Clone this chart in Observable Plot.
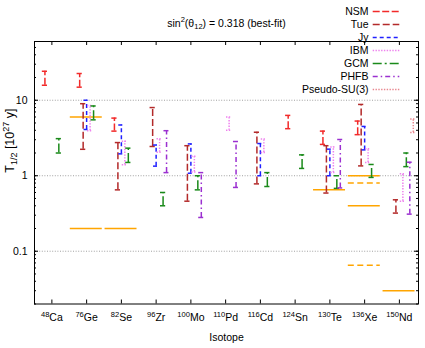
<!DOCTYPE html>
<html><head><meta charset="utf-8">
<script src="https://cdn.jsdelivr.net/npm/d3@7"></script>
<script src="https://cdn.jsdelivr.net/npm/@observablehq/plot@0.6"></script>
<style>
body{margin:0;background:#fff}
#wrap{position:relative;width:425px;height:348px}
#wrap svg{position:absolute;left:0;top:0}
</style></head><body><div id="wrap"></div>
<script>
// ---------- data (half-lives in units of 10^27 y) ----------
const isotopes = ["48Ca","76Ge","82Se","96Zr","100Mo","110Pd","116Cd","124Sn","130Te","136Xe","150Nd"];
const models = ["NSM","Tue","Jy","IBM","GCM","PHFB","Pseudo-SU(3)"];
// [isotope, lower, upper]
const NSM = [["48Ca",15.8,24.2],["76Ge",14.9,22.6],["82Se",3.9,5.8],["124Sn",4.2,6.3],["130Te",2.6,3.9],["136Xe",3.5,5.3]];
const Tue = [["76Ge",2.24,9.0],["82Se",0.65,2.75],["96Zr",2.44,8.0],["100Mo",0.46,2.5],["116Cd",0.78,3.77],["130Te",0.59,2.5],["136Xe",1.35,8.8],["150Nd",0.32,0.48]];
const Jy = [["76Ge",4.1,10.0],["82Se",1.95,4.7],["96Zr",1.34,2.55],["100Mo",1.08,2.64],["116Cd",1.0,2.67],["130Te",1.0,2.25],["136Xe",2.2,4.5]];
const IBM = [["76Ge",3.95,8.5],["82Se",1.4,2.86],["96Zr",2.05,3.1],["100Mo",1.12,1.81],["110Pd",4.0,6.0],["116Cd",2.03,3.07],["130Te",1.1,2.41],["136Xe",1.5,2.27],["150Nd",0.46,1.06]];
const GCM = [["48Ca",2.0,3.1],["76Ge",5.5,8.4],["82Se",1.5,2.32],["96Zr",0.40,0.60],["100Mo",0.65,1.0],["116Cd",0.72,1.1],["124Sn",1.25,1.89],["130Te",0.68,1.0],["136Xe",0.95,1.41],["150Nd",1.32,2.0]];
const PHFB = [["96Zr",1.10,3.95],["100Mo",0.28,1.10],["110Pd",0.70,2.84],["130Te",0.69,3.02],["150Nd",0.31,1.51]];
const PseudoSU3 = [["150Nd",3.75,5.65]];
// experimental limits (solid) and projected sensitivities (dashed)
const expLimits = [["76Ge",6.0],["76Ge",0.2],["82Se",0.2],["130Te",0.65],["136Xe",1.0],["136Xe",0.4],["150Nd",0.03]];
const expProjected = [["136Xe",0.8],["136Xe",0.065]];
const yTickValues = [0.1, 1, 10];
const titleText = "sin^{2}(θ_{12}) = 0.318 (best-fit)";
const yLabelText = "T_{1/2} [10^{27} y]";
const xLabelText = "Isotope";

// ---------- styling ----------
const modelData = {"NSM": NSM, "Tue": Tue, "Jy": Jy, "IBM": IBM, "GCM": GCM, "PHFB": PHFB, "Pseudo-SU(3)": PseudoSU3};
const modelStyle = {
  "NSM":          {stroke: "#f22a2a", dash: "7,2.5"},
  "Tue":          {stroke: "#b32a2a", dash: "7,3"},
  "Jy":           {stroke: "#2020ff", dash: "4,3"},
  "IBM":          {stroke: "#ee82ee", dash: "1.4,1.4"},
  "GCM":          {stroke: "#1a8a1a", dash: "9,3,2,3"},
  "PHFB":         {stroke: "#9b30d0", dash: "5,3,1.5,3"},
  "Pseudo-SU(3)": {stroke: "#e8878f", dash: "1.4,1.4"}
};
const ORANGE = "#ffa500";

function hasFont(name){
  const c = document.createElement("canvas").getContext("2d");
  const s = "Pseudo-SU(3) Isotope 0123456789";
  c.font = "20px monospace"; const a = c.measureText(s).width;
  c.font = `20px '${name}', monospace`; const b = c.measureText(s).width;
  return Math.abs(a - b) > 0.5;
}
const narrow = hasFont("Liberation Sans Narrow");
const FONT = narrow ? "'Liberation Sans Narrow', 'Liberation Sans', Arial, sans-serif" : "'Liberation Sans', Arial, sans-serif";
const FS = narrow ? 11.5 : 10;

// turn "a^{b}c_{d}" markup into real text with super/subscript tspans
function richify(root, ratio) {
  const ns = "http://www.w3.org/2000/svg";
  root.querySelectorAll("text").forEach(t => {
    if (t.querySelector("tspan")) return;
    const s = t.textContent;
    if (!/[_^]\{/.test(s)) return;
    const size = parseFloat(getComputedStyle(t).fontSize) || FS;
    const r = t.closest("[data-ratio]") ? +t.closest("[data-ratio]").dataset.ratio : ratio;
    t.textContent = "";
    const re = /([_^])\{([^}]*)\}|([^_^]+)/g;
    let m, shift = 0;
    while ((m = re.exec(s))) {
      const ts = document.createElementNS(ns, "tspan");
      let target = 0, sub = null;
      if (m[1] === "^") { target = -0.42 * size; sub = r * size; ts.textContent = m[2]; }
      else if (m[1] === "_") { target = 0.25 * size; sub = r * size; ts.textContent = m[2]; }
      else ts.textContent = m[3];
      const dy = target - shift;
      if (dy) ts.setAttribute("dy", dy.toFixed(2));
      if (sub) ts.setAttribute("font-size", sub.toFixed(2));
      shift = target;
      t.appendChild(ts);
    }
  });
}

// ---------- layout ----------
const W = 425, H = 348, mL = 34, mR = 7, mT = 41, mB = 44.5;
const frameW = W - mL - mR, frameH = H - mT - mB;
const xDomain = [0.5, 11.55];
const pxPerUnit = frameW / (xDomain[1] - xDomain[0]);
const capHalf = 2.6 / pxPerUnit;
const isoIndex = iso => isotopes.indexOf(iso) + 1;
const isoTicks = isotopes.map((d, i) => i + 1);
const yMinor = d3.scaleLog().domain([0.02, 60]).ticks();

const marks = [];
marks.push(Plot.ruleY(yTickValues, {y: d => d, stroke: "#a0a0a0", strokeDasharray: "1,1.6", strokeWidth: 1}));
marks.push(Plot.ruleY(expLimits, {y: d => d[1], x1: d => isoIndex(d[0]) - 0.47, x2: d => isoIndex(d[0]) + 0.45, stroke: ORANGE, strokeWidth: 1.5}));
marks.push(Plot.ruleY(expProjected, {y: d => d[1], x1: d => isoIndex(d[0]) - 0.47, x2: d => isoIndex(d[0]) + 0.45, stroke: ORANGE, strokeWidth: 1.5, strokeDasharray: "6,3.5"}));

models.forEach((name, k) => {
  const off = (k - 2) * 0.1;
  const st = modelStyle[name];
  const data = modelData[name].map(([iso, lo, hi]) => ({x: isoIndex(iso) + off, lo, hi}));
  const common = {stroke: st.stroke, strokeWidth: 1.5, strokeDasharray: st.dash};
  marks.push(Plot.ruleX(data, {x: "x", y1: "lo", y2: "hi", ...common}));
  marks.push(Plot.ruleY(data, {y: "hi", x1: d => d.x - capHalf, x2: d => d.x + capHalf, ...common}));
  marks.push(Plot.ruleY(data, {y: "lo", x1: d => d.x - capHalf, x2: d => d.x + capHalf, ...common}));
});

marks.push(Plot.frame({stroke: "#000", strokeWidth: 1}));
// inward tick marks on all four sides
const majorLen = 4, minorLen = 2;
marks.push(Plot.tickY(yTickValues, {y: d => d, insetRight: frameW - majorLen, stroke: "#000"}));
marks.push(Plot.tickY(yMinor, {y: d => d, insetRight: frameW - minorLen, stroke: "#000"}));
marks.push(Plot.tickY(yTickValues, {y: d => d, insetLeft: frameW - majorLen, stroke: "#000"}));
marks.push(Plot.tickY(yMinor, {y: d => d, insetLeft: frameW - minorLen, stroke: "#000"}));
marks.push(Plot.tickX(isoTicks, {x: d => d, insetBottom: frameH - majorLen, stroke: "#000"}));
marks.push(Plot.tickX(isoTicks, {x: d => d, insetTop: frameH - majorLen, stroke: "#000"}));

marks.push(Plot.axisY(yTickValues, {tickSize: 0, tickPadding: 7, label: null, tickFormat: d => String(d), fontSize: FS + 0.5}));
marks.push(Plot.axisX(isoTicks, {tickSize: 0, tickPadding: 9.5, label: null, fontSize: FS + 0.5,
  tickFormat: i => { const m = isotopes[i - 1].match(/^(\d+)(\D+)$/); return `^{${m[1]}}${m[2]}`; }}));

marks.push(Plot.text([titleText], {frameAnchor: "top", dy: -15, lineAnchor: "bottom", fontSize: FS + 0.5}));
marks.push(Plot.text([xLabelText], {frameAnchor: "bottom", dy: 37, lineAnchor: "bottom", fontSize: FS + 0.5}));
marks.push(Plot.text([yLabelText], {frameAnchor: "left", dx: -24.5, rotate: -90, lineAnchor: "middle", fontSize: 12.5, fontFamily: "'Liberation Sans', Arial, sans-serif", ariaLabel: "y-label"}));

const chart = Plot.plot({
  width: W, height: H,
  marginLeft: mL, marginRight: mR, marginTop: mT, marginBottom: mB,
  x: {type: "linear", domain: xDomain, axis: null},
  y: {type: "log", domain: [0.02, 60], axis: null},
  style: {fontFamily: FONT, fontSize: FS + "px", background: "transparent", color: "#000"},
  marks
});

// legend (overlapping the top-right corner, as in the original)
const legendMarks = [];
models.forEach(name => {
  const st = modelStyle[name];
  legendMarks.push(Plot.ruleY([name], {y: d => d, x1: () => 0, x2: () => 1, stroke: st.stroke, strokeWidth: 1.5, strokeDasharray: st.dash}));
});
legendMarks.push(Plot.text(models, {x: () => 0, y: d => d, dx: -4.7, textAnchor: "end", lineAnchor: "middle", fontSize: FS + 0.5}));
const legend = Plot.plot({
  width: W, height: H, margin: 0,
  x: {domain: [0, 1], range: [372.7, 399.3], axis: null},
  y: {type: "point", domain: models, range: [9, 90.7], padding: 0, axis: null},
  style: {fontFamily: FONT, fontSize: FS + "px", background: "transparent", color: "#000", pointerEvents: "none"},
  marks: legendMarks
});

const wrap = document.getElementById("wrap");
wrap.appendChild(chart);
wrap.appendChild(legend);
const yl = chart.querySelector('[aria-label="y-label"]');
if (yl) yl.setAttribute("data-ratio", "0.8");
richify(chart, 0.72);
</script></body></html>
